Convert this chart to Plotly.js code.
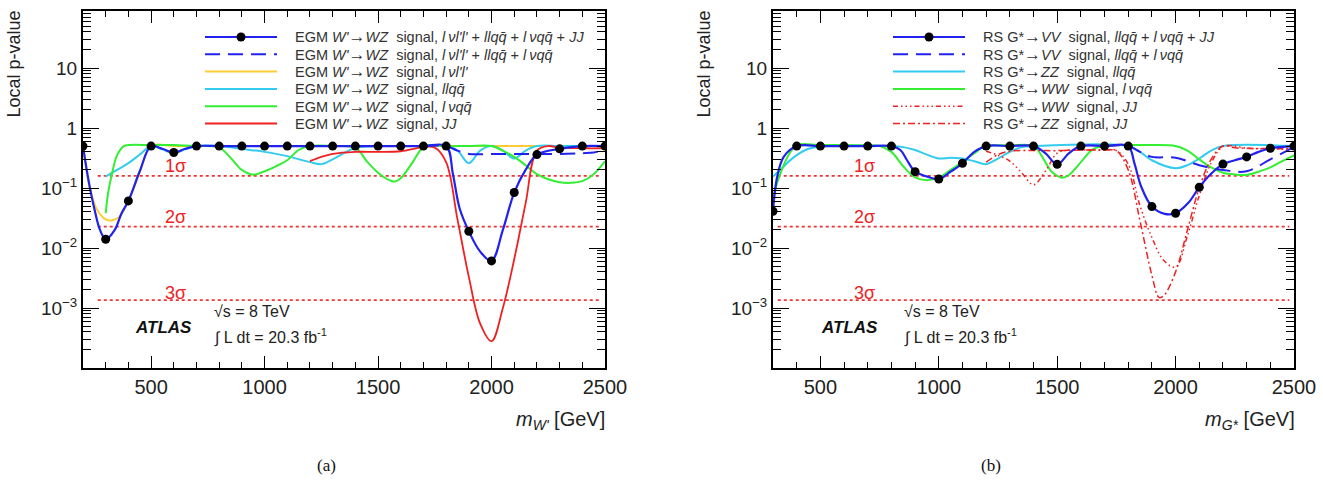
<!DOCTYPE html>
<html>
<head>
<meta charset="utf-8">
<script src="https://cdn.plot.ly/plotly-3.0.1.min.js"></script>
<style>body{margin:0;background:#fff}</style>
</head>
<body>
<div id="chart" style="width:1323px;height:487px"></div>
<script>
// ---------------- Panel (a): EGM W' -> WZ ----------------
const mW_combLine = [200,225,250,275,300,340,370,400,450,500,550,600,650,700,800,900,1000,1100,1200,1300,1400,1500,1600,1700,1800,1830,1860,1900,1950,2000,2050,2100,2150,2200,2300,2400,2500];
const pW_combLine = [0.5,0.13,0.045,0.02,0.014,0.02,0.038,0.061,0.19,0.5,0.45,0.39,0.45,0.5,0.5,0.5,0.5,0.5,0.5,0.5,0.5,0.5,0.5,0.5,0.5,0.17,0.045,0.019,0.0087,0.0061,0.02,0.084,0.2,0.36,0.45,0.5,0.5];
const mW_points = [200,300,400,500,600,700,800,900,1000,1100,1200,1300,1400,1500,1600,1700,1800,1900,2000,2100,2200,2300,2400,2500];
const pW_points = [0.5,0.014,0.061,0.5,0.39,0.5,0.5,0.5,0.5,0.5,0.5,0.5,0.5,0.5,0.5,0.5,0.5,0.019,0.0061,0.084,0.36,0.45,0.5,0.5];
const mW_noJJ = [1700,1800,1850,1900,2000,2100,2200,2300,2400,2450,2500];
const pW_noJJ = [0.5,0.5,0.42,0.37,0.37,0.37,0.37,0.37,0.38,0.39,0.44];
const mW_lvll = [200,230,260,300,330,360,400,450,500,600,700,800,1200,1600,2000,2500];
const pW_lvll = [0.5,0.1,0.045,0.03,0.029,0.033,0.06,0.18,0.5,0.5,0.5,0.5,0.5,0.5,0.5,0.5];
const mW_llqq = [300,350,400,450,500,550,600,650,700,800,900,1000,1100,1200,1250,1300,1350,1400,1500,1600,1700,1800,1850,1900,1950,2000,2050,2100,2150,2200,2300,2500];
const pW_llqq = [0.155,0.2,0.26,0.36,0.5,0.44,0.38,0.44,0.5,0.5,0.45,0.4,0.34,0.27,0.25,0.3,0.38,0.47,0.5,0.5,0.5,0.5,0.42,0.26,0.42,0.5,0.42,0.31,0.42,0.5,0.5,0.5];
const mW_lvqq = [300,310,325,350,380,400,500,600,700,800,850,900,950,1000,1050,1100,1150,1200,1300,1400,1450,1500,1550,1575,1600,1650,1700,1750,1800,1900,2000,2050,2100,2150,2200,2250,2300,2350,2400,2450,2500];
const pW_lvqq = [0.038,0.08,0.155,0.35,0.5,0.52,0.52,0.52,0.5,0.47,0.32,0.2,0.167,0.19,0.23,0.29,0.43,0.5,0.5,0.47,0.28,0.18,0.135,0.128,0.145,0.26,0.48,0.52,0.5,0.5,0.5,0.42,0.33,0.24,0.17,0.14,0.125,0.122,0.13,0.17,0.28];
const mW_JJ = [1200,1250,1300,1400,1500,1600,1700,1750,1800,1850,1900,1950,2000,2050,2100,2150,2200,2250,2300,2400,2500];
const pW_JJ = [0.28,0.33,0.37,0.4,0.4,0.41,0.48,0.47,0.27,0.03,0.0033,0.00055,0.00028,0.001,0.0065,0.055,0.42,0.5,0.47,0.46,0.46];

// ---------------- Panel (b): RS G* -> VV ----------------
const mG_combLine = [300,317,345,400,500,600,700,800,838,866,900,951,1000,1050,1100,1150,1200,1300,1400,1450,1500,1550,1600,1700,1800,1826,1855,1900,1954,2000,2053,2100,2152,2200,2250,2300,2350,2400,2500];
const pG_combLine = [0.041,0.15,0.33,0.5,0.5,0.5,0.5,0.5,0.43,0.29,0.187,0.155,0.141,0.187,0.258,0.4,0.5,0.5,0.5,0.38,0.248,0.38,0.5,0.5,0.5,0.26,0.105,0.049,0.037,0.038,0.056,0.103,0.176,0.25,0.29,0.33,0.4,0.46,0.5];
const mG_points = [300,400,500,600,700,800,900,1000,1100,1200,1300,1400,1500,1600,1700,1800,1900,2000,2100,2200,2300,2400,2500];
const pG_points = [0.041,0.5,0.5,0.5,0.5,0.5,0.187,0.141,0.258,0.5,0.5,0.5,0.248,0.5,0.5,0.5,0.049,0.038,0.103,0.25,0.33,0.46,0.5];
const mG_noJJ = [1700,1800,1850,1900,2000,2100,2200,2300,2400,2500];
const pG_noJJ = [0.5,0.5,0.4,0.33,0.32,0.24,0.2,0.19,0.3,0.48];
const mG_ZZllqq = [300,330,390,450,530,800,850,900,950,1000,1050,1100,1150,1200,1250,1300,1350,1400,1800,1850,1900,2000,2050,2100,2150,2200,2500];
const pG_ZZllqq = [0.155,0.2,0.33,0.45,0.5,0.5,0.48,0.43,0.36,0.31,0.32,0.31,0.28,0.25,0.31,0.4,0.48,0.5,0.5,0.4,0.29,0.213,0.24,0.31,0.42,0.5,0.5];
const mG_WWlvqq = [300,330,370,400,500,600,700,750,800,850,900,950,1000,1050,1100,1150,1200,1300,1400,1450,1475,1500,1520,1550,1600,1650,1700,1800,1900,2000,2050,2100,2150,2200,2250,2300,2350,2400,2450,2500];
const pG_WWlvqq = [0.07,0.17,0.38,0.52,0.52,0.52,0.51,0.5,0.4,0.23,0.15,0.135,0.15,0.2,0.27,0.38,0.5,0.51,0.5,0.27,0.19,0.16,0.148,0.165,0.27,0.44,0.5,0.52,0.52,0.5,0.42,0.3,0.22,0.18,0.168,0.165,0.187,0.22,0.28,0.35];
const mG_WWJJ = [1200,1250,1300,1350,1400,1450,1500,1550,1600,1700,1750,1800,1850,1900,1950,2000,2050,2100,2150,2200,2250,2300,2500];
const pG_WWJJ = [0.41,0.35,0.28,0.18,0.113,0.19,0.38,0.43,0.43,0.43,0.42,0.25,0.05,0.015,0.0062,0.0048,0.016,0.075,0.26,0.49,0.5,0.46,0.45];
const mG_ZZJJ = [1200,1250,1300,1400,1500,1600,1700,1750,1800,1850,1900,1930,1950,2000,2050,2100,2150,2200,2250,2300,2500];
const pG_ZZJJ = [0.27,0.36,0.41,0.42,0.42,0.43,0.43,0.42,0.2,0.028,0.0035,0.0015,0.0016,0.004,0.02,0.1,0.3,0.5,0.47,0.46,0.45];

// ---------------- Reference lines and tick labels ----------------
const sigmaP = [0.1587, 0.02275, 0.00135];
const sigmaLabels = ['1σ', '2σ', '3σ'];
const sigmaRangeA = [265, 2480];
const sigmaRangeB = [320, 2480];
const yTickVals = [0.001, 0.01, 0.1, 1, 10];
const yTickText = ['10<sup>−3</sup>', '10<sup>−2</sup>', '10<sup>−1</sup>', '1', '10'];
const xTickVals = [500, 1000, 1500, 2000, 2500];
const xTickText = ['500', '1000', '1500', '2000', '2500'];

const qb = 'q\u0304';
const AR = '<span style="font-size:17px">→</span>';
const legendA = [
  'EGM <i>W\'</i>' + AR + '<i>WZ</i>\u00a0 signal, <i>l\u2009νl\'l\'</i> + <i>llq' + qb + '</i> + <i>l\u2009νq' + qb + '</i> + <i>JJ</i>',
  'EGM <i>W\'</i>' + AR + '<i>WZ</i>\u00a0 signal, <i>l\u2009νl\'l\'</i> + <i>llq' + qb + '</i> + <i>l\u2009νq' + qb + '</i>',
  'EGM <i>W\'</i>' + AR + '<i>WZ</i>\u00a0 signal, <i>l\u2009νl\'l\'</i>',
  'EGM <i>W\'</i>' + AR + '<i>WZ</i>\u00a0 signal, <i>llq' + qb + '</i>',
  'EGM <i>W\'</i>' + AR + '<i>WZ</i>\u00a0 signal, <i>l\u2009νq' + qb + '</i>',
  'EGM <i>W\'</i>' + AR + '<i>WZ</i>\u00a0 signal, <i>JJ</i>'
];
const legendB = [
  'RS G*' + AR + '<i>VV</i>\u00a0 signal, <i>llq' + qb + '</i> + <i>l\u2009νq' + qb + '</i> + <i>JJ</i>',
  'RS G*' + AR + '<i>VV</i>\u00a0 signal, <i>llq' + qb + '</i> + <i>l\u2009νq' + qb + '</i>',
  'RS G*' + AR + '<i>ZZ</i>\u00a0 signal, <i>llq' + qb + '</i>',
  'RS G*' + AR + '<i>WW</i>\u00a0 signal, <i>l\u2009νq' + qb + '</i>',
  'RS G*' + AR + '<i>WW</i>\u00a0 signal, <i>JJ</i>',
  'RS G*' + AR + '<i>ZZ</i>\u00a0 signal, <i>JJ</i>'
];

// ---------------- Styling ----------------
const W = 1323, H = 487;
const px = x => x / W;
const py = y => 1 - y / H;
const BLUE = '#2222ee', YELLOW = '#ffcc33', CYAN = '#33ccee', GREEN = '#33ee33', RED = '#ee2222';
const DASH_BLUE = '15px,8px';
const DASH_WWJJ = '5px,3px,1.5px,3px,1.5px,3px,1.5px,3px';
const DASH_ZZJJ = '7px,3px,2px,3px';
const FONT = 'Liberation Sans, Arial, Helvetica, sans-serif';

function curve(x, y, xa, ya, color, dash, width) {
  return {type: 'scatter', mode: 'lines', x: x, y: y, xaxis: xa, yaxis: ya,
    line: {color: color, dash: dash, width: width, shape: 'spline', smoothing: 1},
    hoverinfo: 'skip', showlegend: false};
}
function points(x, y, xa, ya) {
  return {type: 'scatter', mode: 'markers', x: x, y: y, xaxis: xa, yaxis: ya,
    marker: {color: '#000', size: 9}, hoverinfo: 'skip', showlegend: false};
}
function sigmaTraces(range, xa, ya) {
  return sigmaP.map(p => ({type: 'scatter', mode: 'lines', x: range, y: [p, p], xaxis: xa, yaxis: ya,
    line: {color: '#ee3333', dash: 'dot', width: 1.8}, hoverinfo: 'skip', showlegend: false}));
}

const data = [].concat(
  sigmaTraces(sigmaRangeA, 'x', 'y'),
  [curve(mW_lvll, pW_lvll, 'x', 'y', YELLOW, 'solid', 2),
   curve(mW_llqq, pW_llqq, 'x', 'y', CYAN, 'solid', 2),
   curve(mW_lvqq, pW_lvqq, 'x', 'y', GREEN, 'solid', 2),
   curve(mW_JJ, pW_JJ, 'x', 'y', RED, 'solid', 1.8),
   curve(mW_noJJ, pW_noJJ, 'x', 'y', BLUE, DASH_BLUE, 2),
   curve(mW_combLine, pW_combLine, 'x', 'y', BLUE, 'solid', 2.2),
   points(mW_points, pW_points, 'x', 'y')],
  sigmaTraces(sigmaRangeB, 'x2', 'y2'),
  [curve(mG_ZZllqq, pG_ZZllqq, 'x2', 'y2', CYAN, 'solid', 2),
   curve(mG_WWlvqq, pG_WWlvqq, 'x2', 'y2', GREEN, 'solid', 2),
   curve(mG_WWJJ, pG_WWJJ, 'x2', 'y2', RED, DASH_WWJJ, 1.5),
   curve(mG_ZZJJ, pG_ZZJJ, 'x2', 'y2', RED, DASH_ZZJJ, 1.5),
   curve(mG_noJJ, pG_noJJ, 'x2', 'y2', BLUE, DASH_BLUE, 2),
   curve(mG_combLine, pG_combLine, 'x2', 'y2', BLUE, 'solid', 2.2),
   points(mG_points, pG_points, 'x2', 'y2')]
);

function xAxis(domain, range, anchor) {
  return {domain: domain, range: range, anchor: anchor, tickmode: 'array', tickvals: xTickVals, ticktext: xTickText,
    ticks: 'inside', ticklen: 12, tickwidth: 1, tickcolor: '#000',
    minor: {dtick: 100, ticks: 'inside', ticklen: 6, tickwidth: 1, tickcolor: '#000', showgrid: false},
    showline: true, linewidth: 2, linecolor: '#000', mirror: 'ticks', showgrid: false, zeroline: false,
    tickfont: {family: FONT, size: 20, color: '#222'}, fixedrange: true};
}
function yAxis(domain, anchor) {
  return {domain: domain, type: 'log', range: [-4, 1.95], anchor: anchor,
    tickmode: 'array', tickvals: yTickVals, ticktext: yTickText,
    ticks: 'inside', ticklen: 16, tickwidth: 1, tickcolor: '#000',
    minor: {dtick: 'D1', ticks: 'inside', ticklen: 8, tickwidth: 1, tickcolor: '#000', showgrid: false},
    showline: true, linewidth: 2, linecolor: '#000', mirror: 'ticks', showgrid: false, zeroline: false,
    tickfont: {family: FONT, size: 19, color: '#222'}, fixedrange: true};
}

const yDom = [py(368), py(11)];
const shapes = [];
const annotations = [];

function ann(x, y, text, opts) {
  annotations.push(Object.assign({xref: 'paper', yref: 'paper', x: px(x), y: py(y), text: text, showarrow: false,
    xanchor: 'left', yanchor: 'middle', font: {family: FONT, size: 16, color: '#222'}}, opts || {}));
}

function legend(texts, styles, lx0, lx1, tx, y0, dy) {
  texts.forEach((t, i) => {
    const y = y0 + i * dy;
    const s = styles[i];
    shapes.push({type: 'line', xref: 'paper', yref: 'paper', x0: px(lx0), x1: px(lx1), y0: py(y), y1: py(y),
      line: {color: s.color, width: s.width, dash: s.dash}});
    if (s.marker) {
      const cx = (lx0 + lx1) / 2;
      shapes.push({type: 'circle', xref: 'paper', yref: 'paper', x0: px(cx - 4.5), x1: px(cx + 4.5), y0: py(y + 4.5), y1: py(y - 4.5),
        fillcolor: '#000', line: {color: '#000', width: 0}});
    }
    ann(tx, y, t, {font: {family: FONT, size: 14.5, color: '#333'}});
  });
}

legend(legendA, [
  {color: BLUE, width: 2, dash: 'solid', marker: true},
  {color: BLUE, width: 2, dash: DASH_BLUE},
  {color: YELLOW, width: 2, dash: 'solid'},
  {color: CYAN, width: 2, dash: 'solid'},
  {color: GREEN, width: 2, dash: 'solid'},
  {color: RED, width: 1.8, dash: 'solid'}
], 205, 277, 293, 37, 17.3);
legend(legendB, [
  {color: BLUE, width: 2, dash: 'solid', marker: true},
  {color: BLUE, width: 2, dash: DASH_BLUE},
  {color: CYAN, width: 2, dash: 'solid'},
  {color: GREEN, width: 2, dash: 'solid'},
  {color: RED, width: 1.5, dash: DASH_WWJJ},
  {color: RED, width: 1.5, dash: DASH_ZZJJ}
], 893, 965, 981, 37, 17.3);

// sigma labels
const sigmaLabelY = [166, 216.5, 293];
sigmaLabels.forEach((s, i) => {
  ann(163, sigmaLabelY[i], s, {font: {family: FONT, size: 18, color: '#ee2222'}});
  ann(852, sigmaLabelY[i], s, {font: {family: FONT, size: 18, color: '#ee2222'}});
});

// ATLAS labels
[[133, 212], [819, 902]].forEach(([ax, tx]) => {
  ann(ax, 327, '<b><i>ATLAS</i></b>', {font: {family: FONT, size: 17, color: '#111'}});
  ann(tx, 311, '√s = 8 TeV', {font: {family: FONT, size: 16, color: '#222'}});
  ann(tx, 336, '∫ L dt = 20.3 fb<sup>-1</sup>', {font: {family: FONT, size: 16, color: '#222'}});
});

// axis titles
ann(607, 420, '<i>m</i><sub><i>W\'</i></sub> [GeV]', {xanchor: 'right', font: {family: FONT, size: 20, color: '#222'}});
ann(1297, 420, '<i>m</i><sub><i>G*</i></sub> [GeV]', {xanchor: 'right', font: {family: FONT, size: 20, color: '#222'}});
ann(13, 9, 'Local p-value', {xanchor: 'center', yanchor: 'top', textangle: -90, font: {family: FONT, size: 18, color: '#222'}});
ann(703, 9, 'Local p-value', {xanchor: 'center', yanchor: 'top', textangle: -90, font: {family: FONT, size: 18, color: '#222'}});

// panel labels
ann(326, 465, '(a)', {xanchor: 'center', font: {family: 'Liberation Serif, Times New Roman, serif', size: 17, color: '#111'}});
ann(991, 465, '(b)', {xanchor: 'center', font: {family: 'Liberation Serif, Times New Roman, serif', size: 17, color: '#111'}});

const layout = {
  width: W, height: H, margin: {l: 0, r: 0, t: 0, b: 0},
  paper_bgcolor: '#fff', plot_bgcolor: '#fff', showlegend: false,
  font: {family: FONT, color: '#222'},
  xaxis: xAxis([px(83), px(605)], [200, 2500], 'y'),
  yaxis: yAxis(yDom, 'x'),
  xaxis2: xAxis([px(773), px(1294)], [300, 2500], 'y2'),
  yaxis2: yAxis(yDom, 'x2'),
  shapes: shapes,
  annotations: annotations
};

Plotly.newPlot('chart', data, layout, {displayModeBar: false, staticPlot: true});
</script>
</body>
</html>
